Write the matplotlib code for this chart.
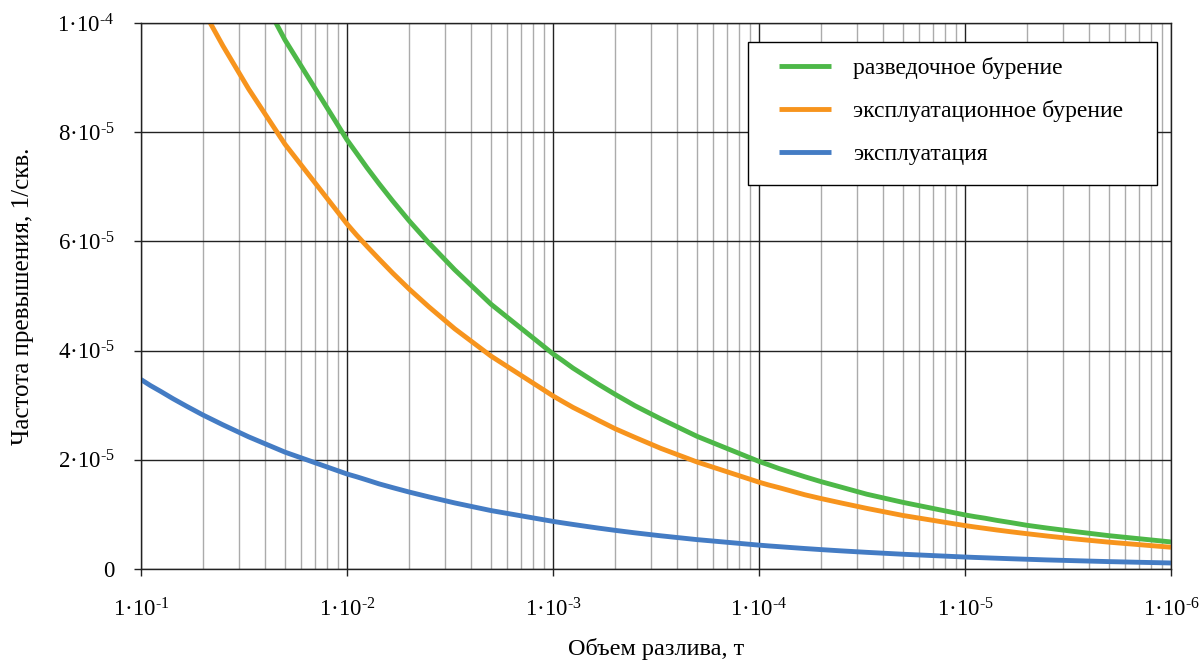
import matplotlib.pyplot as plt
from matplotlib.patches import Rectangle
from matplotlib.ticker import FixedLocator, NullFormatter

plt.rcParams['font.family'] = ['Liberation Serif', 'DejaVu Serif']
plt.rcParams['mathtext.fontset'] = 'custom'
plt.rcParams['mathtext.rm'] = 'Liberation Serif'

# объем разлива, т (по 9 точек на декаду)
x_vol = [1e-1, 9e-2, 8e-2, 7e-2, 6e-2, 5e-2, 4e-2, 3e-2, 2e-2,
         1e-2, 9e-3, 8e-3, 7e-3, 6e-3, 5e-3, 4e-3, 3e-3, 2e-3,
         1e-3, 9e-4, 8e-4, 7e-4, 6e-4, 5e-4, 4e-4, 3e-4, 2e-4,
         1e-4, 9e-5, 8e-5, 7e-5, 6e-5, 5e-5, 4e-5, 3e-5, 2e-5,
         1e-5, 9e-6, 8e-6, 7e-6, 6e-6, 5e-6, 4e-6, 3e-6, 2e-6,
         1e-6]

# частота превышения, x1e-6 1/скв.
razved = [None, None, None, None, None, None, None, 109.4, 96.9,
          78.6, 76.2, 73.5, 70.6, 67.4, 63.8, 59.7, 54.8, 48.5,
          39.4, 38.2, 36.8, 35.4, 33.8, 32.0, 29.9, 27.5, 24.3,
          19.7, 19.1, 18.4, 17.7, 16.9, 16.0, 15.0, 13.7, 12.2,
          9.9, 9.6, 9.3, 8.9, 8.5, 8.0, 7.5, 6.9, 6.1,
          4.95]
expl_bur = [None, None, None, None, 108.2, 102.4, 95.8, 87.9, 77.8,
            63.2, 61.2, 59.1, 56.8, 54.2, 51.3, 48.0, 44.0, 39.0,
            31.7, 30.7, 29.6, 28.5, 27.2, 25.7, 24.1, 22.1, 19.6,
            15.9, 15.4, 14.9, 14.3, 13.6, 12.9, 12.1, 11.1, 9.8,
            7.95, 7.70, 7.44, 7.14, 6.82, 6.46, 6.04, 5.54, 4.91,
            3.98]
expl = [34.7, 33.6, 32.5, 31.2, 29.8, 28.2, 26.4, 24.2, 21.4,
        17.4, 16.9, 16.3, 15.6, 14.9, 14.1, 13.2, 12.1, 10.7,
        8.72, 8.45, 8.16, 7.84, 7.48, 7.08, 6.62, 6.08, 5.38,
        4.37, 4.23, 4.09, 3.93, 3.75, 3.55, 3.32, 3.05, 2.70,
        2.19, 2.12, 2.05, 1.97, 1.88, 1.78, 1.66, 1.53, 1.35,
        1.10]

labels = ["разведочное бурение", "эксплуатационное бурение", "эксплуатация"]
colors = ["#4db848", "#f7941d", "#447cc4"]

x_exp = [1, 2, 3, 4, 5, 6]
y_ticks = [0, 2e-5, 4e-5, 6e-5, 8e-5, 1e-4]
y_mant = [None, 2, 4, 6, 8, 1]
y_exp = [None, 5, 5, 5, 5, 4]


def series(vals):
    xs = [x for x, v in zip(x_vol, vals) if v is not None]
    ys = [v * 1e-6 for v in vals if v is not None]
    return xs, ys


def sci(m, e):
    return r'$\mathregular{%d·10^{\text{-}%d}}$' % (m, e)


fig = plt.figure(figsize=(12.04, 6.63), dpi=100)
ax = fig.add_axes([0.1171, 0.1418, 0.8555, 0.8235])

for vals, lab, c in zip([razved, expl_bur, expl], labels, colors):
    xs, ys = series(vals)
    ax.plot(xs, ys, color=c, lw=3.5, label=lab, solid_capstyle='butt')

ax.set_xscale('log')
ax.set_xlim(1e-1, 1e-6)
ax.set_ylim(0, 1e-4)

ax.set_xticks([10.0 ** -k for k in x_exp])
ax.set_xticklabels([sci(1, k) for k in x_exp])
# промежуточные линии сетки: 10^-k / n
minor = [10.0 ** -k / n for k in x_exp[:-1] for n in range(2, 10)]
ax.xaxis.set_minor_locator(FixedLocator(minor))
ax.xaxis.set_minor_formatter(NullFormatter())

ax.yaxis.set_major_locator(FixedLocator(y_ticks))
ax.set_yticklabels(['0' if m is None else sci(m, e) for m, e in zip(y_mant, y_exp)])

ax.grid(which='major', color='#222222', lw=1.0)
ax.grid(which='minor', axis='x', color='#ababab', lw=1.0)
ax.set_axisbelow(True)

ax.tick_params(which='major', direction='out', length=5, width=1, labelsize=16.5, color='#222222')
ax.tick_params(axis='x', which='major', pad=16)
ax.tick_params(axis='y', which='major', pad=14)
ax.tick_params(which='minor', length=0)

for s in ax.spines.values():
    s.set_color('#222222')
    s.set_linewidth(1.0)

ax.set_xlabel("Объем разлива, т", fontsize=17.5, labelpad=12)
ax.set_ylabel("Частота превышения, 1/скв.", fontsize=18, labelpad=17)

# рамка легенды
box = Rectangle((0.5893, 0.7033), 0.3971, 0.2619, transform=ax.transAxes,
                facecolor='white', edgecolor='black', lw=1.0, zorder=4, clip_on=False)
ax.add_patch(box)

leg = ax.legend(loc='upper left', bbox_to_anchor=(779 / 1204, 1 - 57 / 663),
                bbox_transform=fig.transFigure, borderaxespad=0, borderpad=0,
                fontsize=17, frameon=False, handlelength=2.2, handletextpad=0.95,
                labelspacing=0.9)
leg.set_zorder(5)

fig.savefig("out.png", dpi=100)
